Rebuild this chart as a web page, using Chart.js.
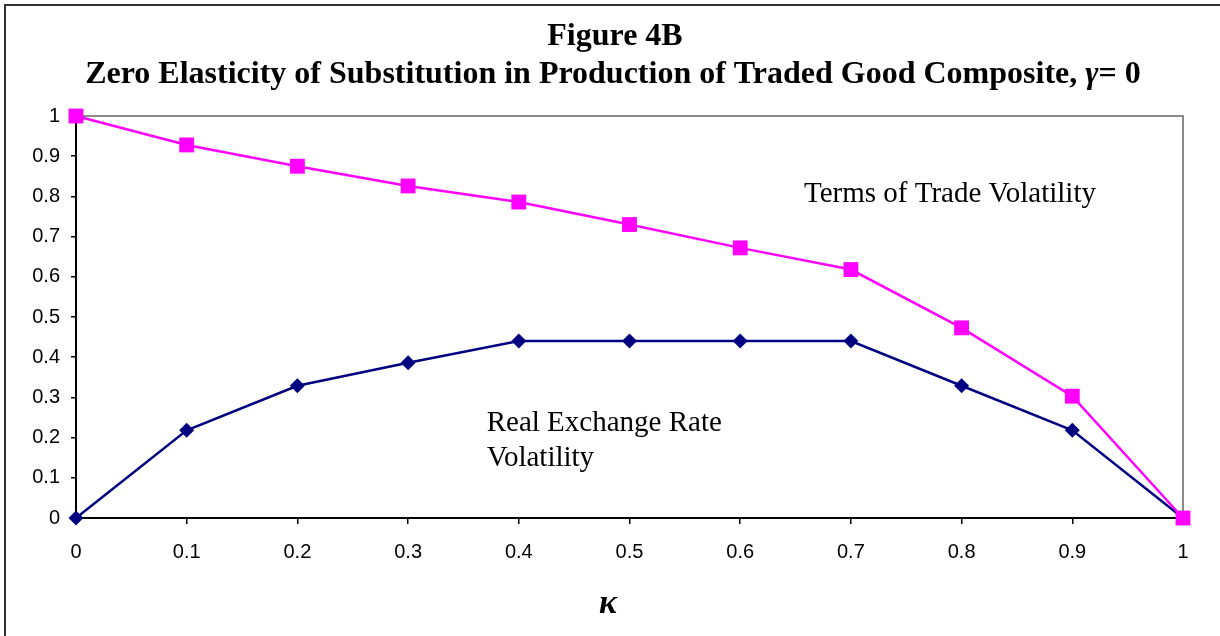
<!DOCTYPE html>
<html>
<head>
<meta charset="utf-8">
<script src="https://cdn.jsdelivr.net/npm/chart.js@4.4.1/dist/chart.umd.min.js"></script>
<style>
  html, body { margin:0; padding:0; background:#fff; }
  #chart { display:block; }
</style>
</head>
<body>
<canvas id="chart" width="1220" height="636"></canvas>
<script>
/* ---------- Data ---------- */
const kappa = [0, 0.1, 0.2, 0.3, 0.4, 0.5, 0.6, 0.7, 0.8, 0.9, 1];
const totVolatility = [1, 0.928, 0.875, 0.826, 0.786, 0.73, 0.672, 0.618, 0.473, 0.303, 0];
const rerVolatility = [0, 0.218, 0.329, 0.386, 0.44, 0.44, 0.44, 0.44, 0.329, 0.218, 0];
const tickLabels = ["0", "0.1", "0.2", "0.3", "0.4", "0.5", "0.6", "0.7", "0.8", "0.9", "1"];

const titleLine1 = "Figure 4B";
const titleLine2 = ["Zero Elasticity of Substitution in Production of Traded Good Composite, ", "\u03B3", "= 0"];
const xTitle = "\u03BA";

// text labels anchored in data coordinates: [text, x, y]
const notes = [
  ["Terms of Trade Volatility", 0.6576, 0.786],
  ["Real Exchange Rate", 0.371, 0.216],
  ["Volatility", 0.371, 0.129]
];

const SERIF = '"Times New Roman", "Liberation Serif", serif';
const SANS = 'Arial, "Liberation Sans", sans-serif';

function tickText(v) {
  const i = Math.round(v * 10);
  return tickLabels[i] ?? "";
}

/* ---------- Decorations ---------- */
const frame = {
  id: "frame",
  beforeDraw(c) {
    const g = c.ctx, a = c.chartArea;
    g.save();
    // outer figure border (left + top visible)
    g.strokeStyle = "#333";
    g.lineWidth = 2;
    g.beginPath();
    g.moveTo(5, c.height + 2); g.lineTo(5, 5); g.lineTo(c.width + 2, 5);
    g.stroke();
    // plot area border
    g.strokeStyle = "#8c8c8c";
    g.lineWidth = 2;
    g.strokeRect(a.left, a.top, a.right - a.left, a.bottom - a.top);
    g.restore();
  },
  afterDraw(c) {
    const g = c.ctx;
    const xs = c.scales.x, ys = c.scales.y;
    g.save();
    g.fillStyle = "#000";
    g.textBaseline = "alphabetic";

    // title line 1
    g.font = "bold 32px " + SERIF;
    g.textAlign = "center";
    g.fillText(titleLine1, 615, 45);

    // title line 2 with italic gamma
    const fB = "bold 32px " + SERIF, fI = "italic bold 32px " + SERIF;
    g.font = fB; const w0 = g.measureText(titleLine2[0]).width;
    g.font = fI; const w1 = g.measureText(titleLine2[1]).width;
    g.font = fB; const w2 = g.measureText(titleLine2[2]).width;
    let x = 613 - (w0 + w1 + w2) / 2;
    g.textAlign = "left";
    g.font = fB; g.fillText(titleLine2[0], x, 83); x += w0;
    g.font = fI; g.fillText(titleLine2[1], x, 83); x += w1;
    g.font = fB; g.fillText(titleLine2[2], x, 83);

    // x axis title
    g.font = "italic bold 34px " + SERIF;
    g.textAlign = "center";
    g.fillText(xTitle, 608, 613);

    // series notes
    g.font = "29px " + SERIF;
    g.textAlign = "left";
    notes.forEach(([t, nx, ny]) => {
      g.fillText(t, xs.getPixelForValue(nx), ys.getPixelForValue(ny));
    });
    g.restore();
  }
};

/* ---------- Chart ---------- */
new Chart(document.getElementById("chart").getContext("2d"), {
  type: "line",
  data: {
    datasets: [
      {
        label: "Terms of Trade Volatility",
        data: kappa.map((k, i) => ({ x: k, y: totVolatility[i] })),
        borderColor: "#ff00ff",
        backgroundColor: "#ff00ff",
        borderWidth: 2.5,
        pointStyle: "rect",
        pointRadius: 10.5,
        pointBorderWidth: 0,
        clip: false
      },
      {
        label: "Real Exchange Rate Volatility",
        data: kappa.map((k, i) => ({ x: k, y: rerVolatility[i] })),
        borderColor: "#000080",
        backgroundColor: "#000080",
        borderWidth: 2.5,
        pointStyle: "rectRot",
        pointRadius: 7.5,
        pointBorderWidth: 0,
        clip: false
      }
    ]
  },
  options: {
    responsive: false,
    animation: false,
    layout: { padding: { top: 116, right: 37, left: 0, bottom: 0 } },
    plugins: { legend: { display: false }, tooltip: { enabled: false }, title: { display: false } },
    scales: {
      x: {
        type: "linear",
        min: 0, max: 1,
        ticks: { stepSize: 0.1, color: "#000", font: { family: SANS, size: 20 }, padding: 16, maxRotation: 0, callback: tickText },
        grid: { drawOnChartArea: false, drawTicks: true, tickLength: 6, color: "#000", lineWidth: 1.5 },
        border: { color: "#000", width: 2 },
        afterFit(s) { s.height = 118; }
      },
      y: {
        min: 0, max: 1,
        ticks: { stepSize: 0.1, color: "#000", font: { family: SANS, size: 20 }, padding: 11, callback: tickText },
        grid: { drawOnChartArea: false, drawTicks: true, tickLength: 5, color: "#000", lineWidth: 1.5 },
        border: { color: "#000", width: 2 },
        afterFit(s) { s.width = 76; }
      }
    }
  },
  plugins: [frame]
});
</script>
</body>
</html>
